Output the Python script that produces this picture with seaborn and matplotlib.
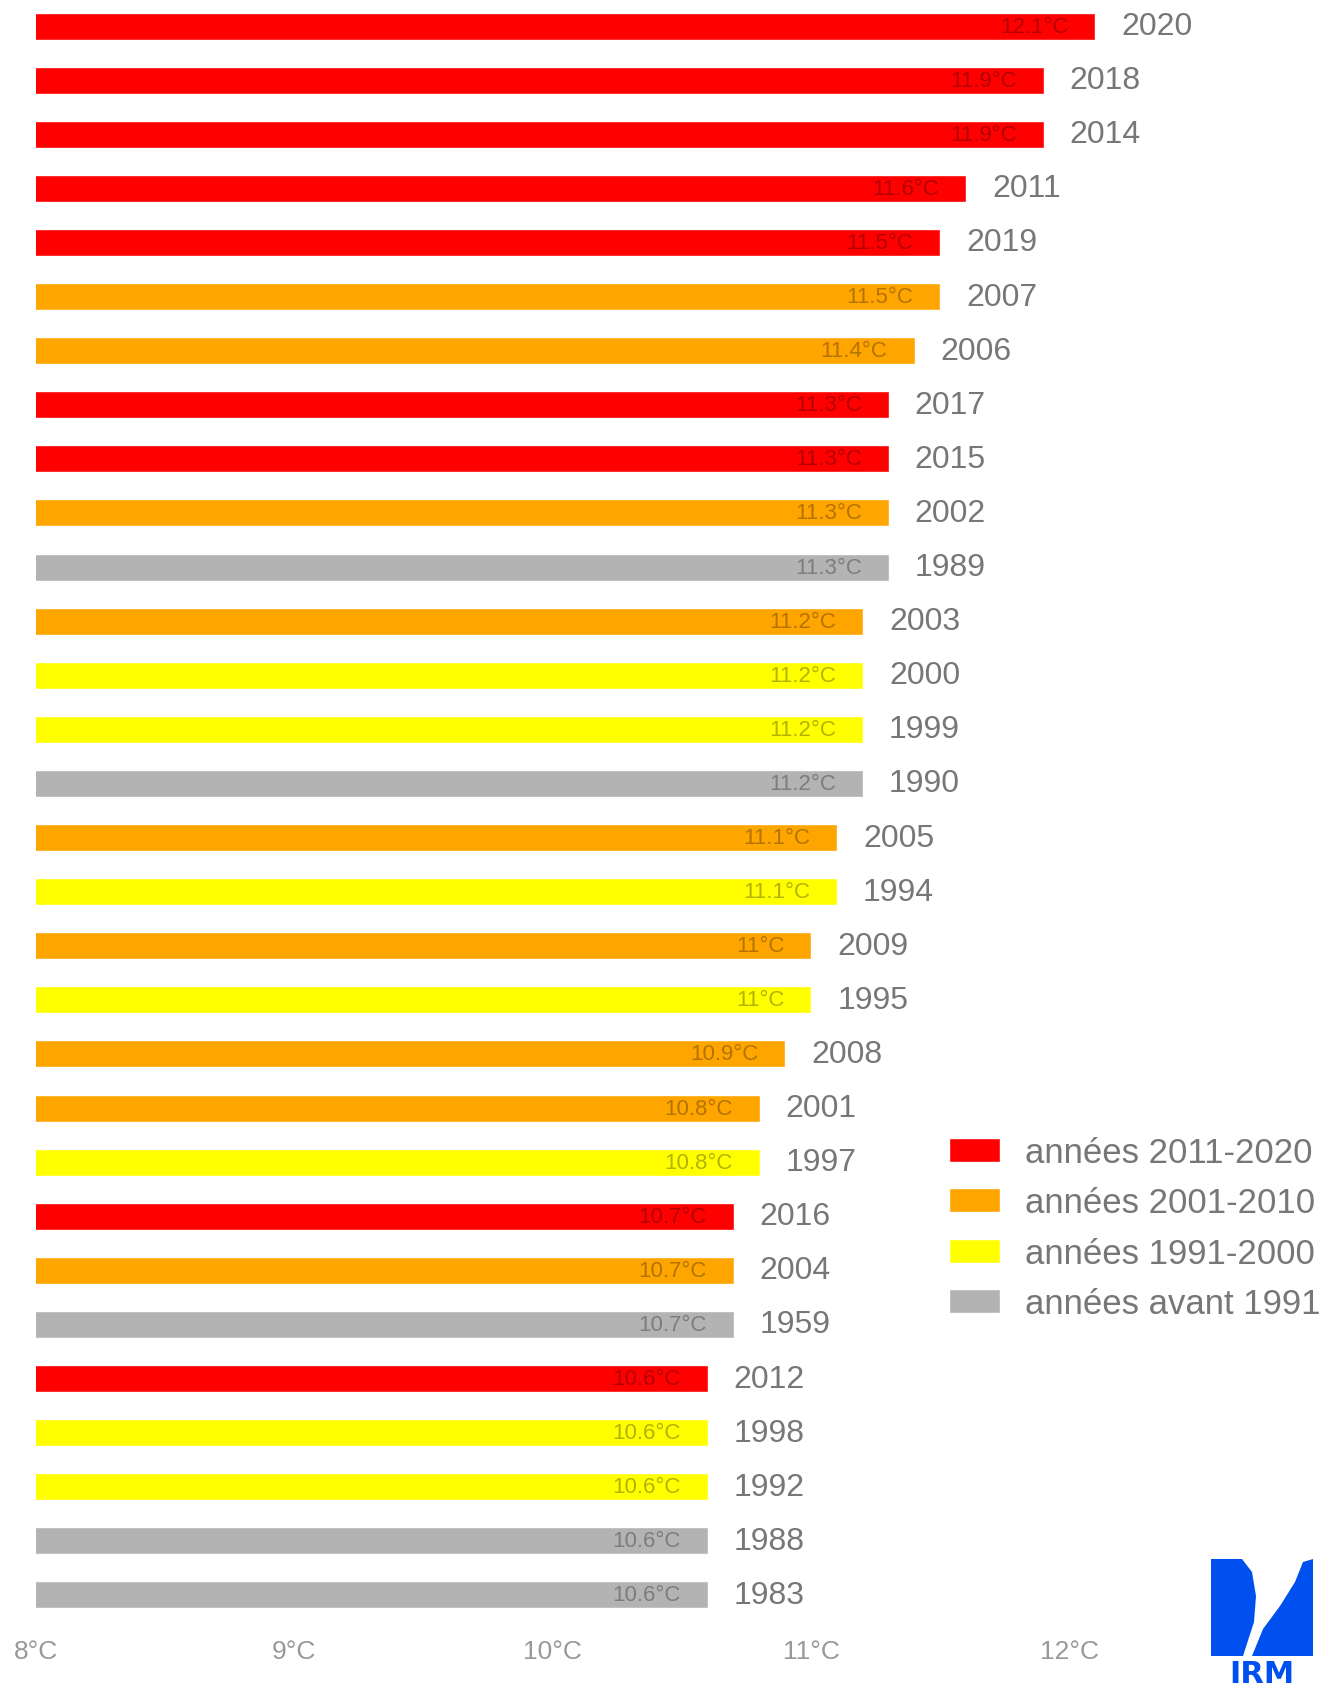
import matplotlib
matplotlib.use("Agg")
import matplotlib.pyplot as plt
import matplotlib.patches as mpatches
import pandas as pd
import seaborn as sns

years = ["2020", "2018", "2014", "2011", "2019", "2007", "2006", "2017", "2015", "2002",
         "1989", "2003", "2000", "1999", "1990", "2005", "1994", "2009", "1995", "2008",
         "2001", "1997", "2016", "2004", "1959", "2012", "1998", "1992", "1988", "1983"]
temps = [12.1, 11.9, 11.9, 11.6, 11.5, 11.5, 11.4, 11.3, 11.3, 11.3,
         11.3, 11.2, 11.2, 11.2, 11.2, 11.1, 11.1, 11.0, 11.0, 10.9,
         10.8, 10.8, 10.7, 10.7, 10.7, 10.6, 10.6, 10.6, 10.6, 10.6]
periods = ["années 2011-2020", "années 2001-2010", "années 1991-2000", "années avant 1991"]
period_colors = ["#ff0000", "#ffa500", "#ffff00", "#b3b3b3"]
xticks = [8, 9, 10, 11, 12]


def period_of(year):
    y = int(year)
    if y >= 2011:
        return periods[0]
    if y >= 2001:
        return periods[1]
    if y >= 1991:
        return periods[2]
    return periods[3]


df = pd.DataFrame({"year": years, "temp": temps})
df["period"] = df["year"].map(period_of)

sns.set_style("white")
plt.rcParams["font.family"] = ["Liberation Sans", "DejaVu Sans"]

W, H = 1325, 1690
fig = plt.figure(figsize=(W / 100, H / 100), dpi=100)
ax = fig.add_axes([36 / W, 67 / H, (W - 36) / W, 1623 / H])

sns.barplot(data=df, x="temp", y="year", hue="period", hue_order=periods,
            palette=period_colors, order=years, dodge=False, width=0.5,
            saturation=1, orient="h", ax=ax)

px_per_deg = 258.4
ax.set_xlim(8, 8 + (W - 36) / px_per_deg)
ax.set_xticks(xticks)
ax.set_xticklabels([f"{t}°C" for t in xticks])
ax.tick_params(axis="x", length=7, width=1.2, color="#cccccc", labelcolor="#999999",
               labelsize=19, pad=5)
ax.tick_params(axis="y", left=False, labelleft=False)
ax.set_xlabel("")
ax.set_ylabel("")
sns.despine(ax=ax, left=True, bottom=True)

for i, (yr, t) in enumerate(zip(years, temps)):
    ax.annotate(f"{t:g}°C", xy=(t, i), xytext=(-27, 0), textcoords="offset pixels",
                ha="right", va="center", fontsize=16, color="black", alpha=0.3)
    ax.annotate(yr, xy=(t, i), xytext=(26, 0), textcoords="offset pixels",
                ha="left", va="center", fontsize=23, color="#777777",
                annotation_clip=False)

handles, labels = ax.get_legend_handles_labels()
ax.get_legend().remove()
fig.legend(handles, labels, loc="upper left",
           bbox_to_anchor=(949 / W, 1 - 1137 / H), bbox_transform=fig.transFigure,
           frameon=False, fontsize=25, labelcolor="#777777",
           handlelength=1.47, handleheight=0.69, handletextpad=0.72,
           labelspacing=0.5, borderpad=0, borderaxespad=0)


# IRM logo, bottom right
def fp(x, y):
    return (x / W, 1 - y / H)


blue = "#0050f0"
left_shape = [fp(1211, 1560), fp(1242, 1560), fp(1252, 1573), fp(1256, 1597),
              fp(1254, 1623), fp(1243, 1657), fp(1211, 1657)]
right_shape = [fp(1303, 1563), fp(1313, 1560), fp(1313, 1657), fp(1252, 1657),
               fp(1263, 1630), fp(1280, 1607), fp(1295, 1583)]
for shape in (left_shape, right_shape):
    fig.patches.append(mpatches.Polygon(shape, closed=True, facecolor=blue,
                                        edgecolor="none", transform=fig.transFigure))
fig.text(1262 / W, 1 - 1660 / H, "IRM", ha="center", va="top", color=blue,
         fontsize=22, fontweight="bold", family="DejaVu Sans")

fig.savefig("out.png", dpi=100)
